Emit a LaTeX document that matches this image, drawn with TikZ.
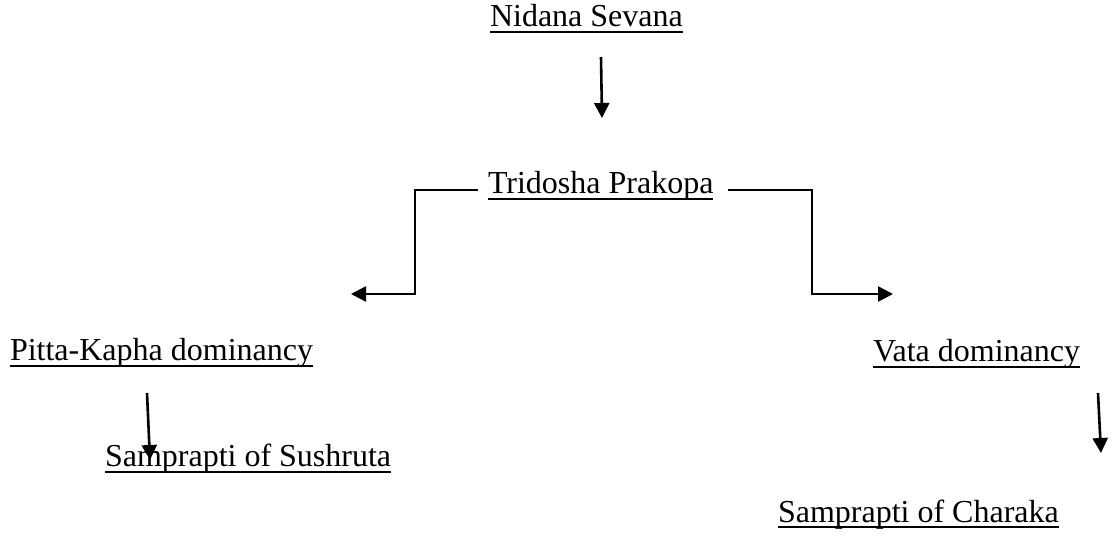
\documentclass[tikz,border=0pt]{standalone}
\usepackage{fontspec}
\setmainfont{Liberation Serif}
\usetikzlibrary{arrows.meta}
\newcommand\myul[1]{\setbox0\hbox{#1}\rlap{\rule[-6pt]{\wd0}{2pt}}\box0}
\tikzset{
  lbl/.style={anchor=base west, inner sep=0pt, outer sep=0pt, font=\fontsize{32}{38}\selectfont},
  conn/.style={line width=2.6pt, -{Triangle[length=15pt,width=15pt]}},
}
\begin{document}
\begin{tikzpicture}[x=1pt,y=-1pt]
\useasboundingbox (0,0) rectangle (1112,537);
\node[lbl] (nid) at (490,27) {\myul{Nidana Sevana}};
\node[lbl] (tri) at (488,194) {\myul{Tridosha Prakopa}};
\node[lbl] (pit) at (10,361) {\myul{Pitta-Kapha dominancy}};
\node[lbl] (vat) at (873,362) {\myul{Vata dominancy}};
\node[lbl] (sus) at (105,467) {\myul{Samprapti of Sushruta}};
\node[lbl] (cha) at (778,522) {\myul{Samprapti of Charaka}};
\coordinate (a1s) at (601,57);
\coordinate (a1e) at (602,118);
\coordinate (ls) at (478,190);
\coordinate (lc) at (415,294);
\coordinate (le) at (351,294);
\coordinate (rs) at (728,190);
\coordinate (rc) at (812,294);
\coordinate (re) at (893,294);
\coordinate (a2s) at (147,393);
\coordinate (a2e) at (150,460);
\coordinate (a3s) at (1098,393);
\coordinate (a3e) at (1101,453);
\draw[conn] (a1s) -- (a1e);
\draw[conn] (ls) -| (lc) -- (le);
\draw[conn] (rs) -| (rc) -- (re);
\draw[conn] (a2s) -- (a2e);
\draw[conn] (a3s) -- (a3e);
\end{tikzpicture}
\end{document}
